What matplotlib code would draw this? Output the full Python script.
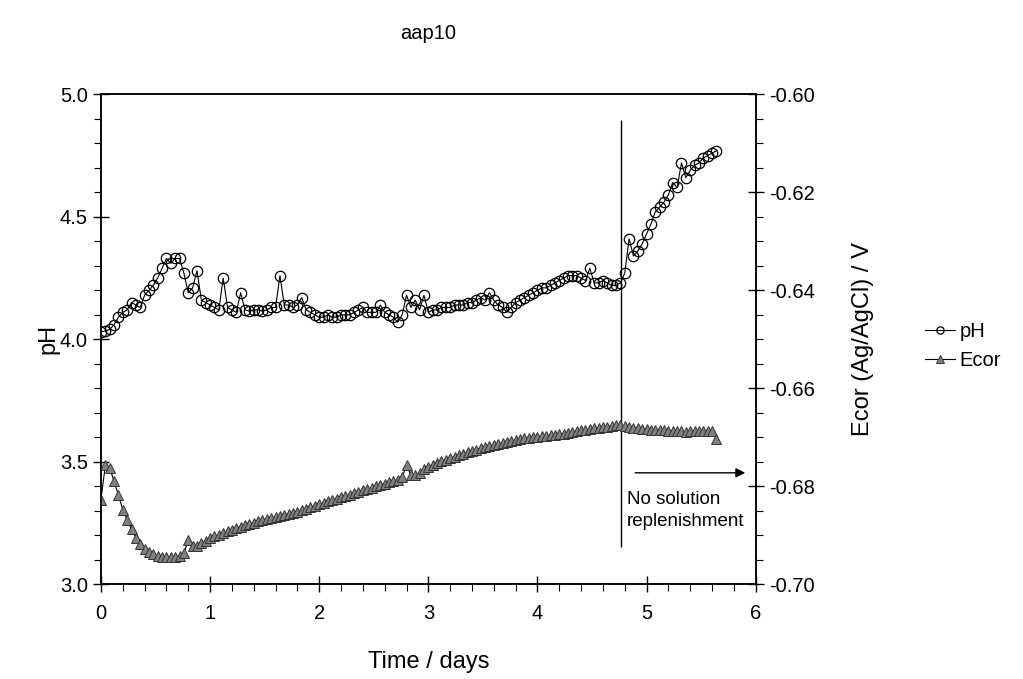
import numpy as np
import matplotlib
matplotlib.use('Agg')
import matplotlib.pyplot as plt
from matplotlib.ticker import MultipleLocator

plt.rcParams['font.family'] = ['Liberation Sans', 'DejaVu Sans']

# time in days (same sampling for both series)
days = [0.00, 0.04, 0.08, 0.12, 0.16, 0.20, 0.24, 0.28, 0.32, 0.36,
        0.40, 0.44, 0.48, 0.52, 0.56, 0.60, 0.64, 0.68, 0.72, 0.76,
        0.80, 0.84, 0.88, 0.92, 0.96, 1.00, 1.04, 1.08, 1.12, 1.16,
        1.20, 1.24, 1.28, 1.32, 1.36, 1.40, 1.44, 1.48, 1.52, 1.56,
        1.60, 1.64, 1.68, 1.72, 1.76, 1.80, 1.84, 1.88, 1.92, 1.96,
        2.00, 2.04, 2.08, 2.12, 2.16, 2.20, 2.24, 2.28, 2.32, 2.36,
        2.40, 2.44, 2.48, 2.52, 2.56, 2.60, 2.64, 2.68, 2.72, 2.76,
        2.80, 2.84, 2.88, 2.92, 2.96, 3.00, 3.04, 3.08, 3.12, 3.16,
        3.20, 3.24, 3.28, 3.32, 3.36, 3.40, 3.44, 3.48, 3.52, 3.56,
        3.60, 3.64, 3.68, 3.72, 3.76, 3.80, 3.84, 3.88, 3.92, 3.96,
        4.00, 4.04, 4.08, 4.12, 4.16, 4.20, 4.24, 4.28, 4.32, 4.36,
        4.40, 4.44, 4.48, 4.52, 4.56, 4.60, 4.64, 4.68, 4.72, 4.76,
        4.80, 4.84, 4.88, 4.92, 4.96, 5.00, 5.04, 5.08, 5.12, 5.16,
        5.20, 5.24, 5.28, 5.32, 5.36, 5.40, 5.44, 5.48, 5.52, 5.56,
        5.60, 5.64]

ph = [4.03, 4.035, 4.04, 4.06, 4.09, 4.11, 4.12, 4.15, 4.14, 4.13,
      4.18, 4.20, 4.22, 4.25, 4.29, 4.33, 4.31, 4.33, 4.33, 4.27,
      4.19, 4.21, 4.28, 4.16, 4.15, 4.14, 4.13, 4.12, 4.25, 4.13,
      4.12, 4.11, 4.19, 4.12, 4.115, 4.12, 4.12, 4.115, 4.12, 4.13,
      4.13, 4.26, 4.14, 4.14, 4.13, 4.14, 4.17, 4.12, 4.11, 4.10,
      4.09, 4.09, 4.10, 4.09, 4.09, 4.10, 4.10, 4.10, 4.11, 4.12,
      4.13, 4.11, 4.11, 4.11, 4.14, 4.11, 4.10, 4.09, 4.07, 4.10,
      4.18, 4.13, 4.16, 4.12, 4.18, 4.11, 4.12, 4.12, 4.13, 4.13,
      4.13, 4.14, 4.14, 4.14, 4.15, 4.15, 4.16, 4.17, 4.16, 4.19,
      4.16, 4.14, 4.13, 4.11, 4.13, 4.15, 4.16, 4.17, 4.18, 4.19,
      4.20, 4.21, 4.21, 4.22, 4.23, 4.24, 4.25, 4.26, 4.26, 4.26,
      4.25, 4.24, 4.29, 4.23, 4.23, 4.24, 4.23, 4.22, 4.22, 4.23,
      4.27, 4.41, 4.34, 4.36, 4.39, 4.43, 4.47, 4.52, 4.54, 4.56,
      4.59, 4.64, 4.62, 4.72, 4.66, 4.69, 4.71, 4.72, 4.74, 4.75,
      4.76, 4.77]

ecor = [-0.6827, -0.6757, -0.6762, -0.6790, -0.6818, -0.6848, -0.6868, -0.6888, -0.6905, -0.6918,
        -0.6927, -0.6934, -0.6939, -0.6942, -0.6944, -0.6945, -0.6945, -0.6944, -0.6942, -0.6937,
        -0.6910, -0.6922, -0.6922, -0.6916, -0.6911, -0.6905, -0.6902, -0.6899, -0.6896, -0.6892,
        -0.6889, -0.6886, -0.6883, -0.6880, -0.6877, -0.6874, -0.6871, -0.6869, -0.6867, -0.6865,
        -0.6862, -0.6860, -0.6858, -0.6856, -0.6854, -0.6852, -0.6849, -0.6846, -0.6843, -0.6840,
        -0.6837, -0.6834, -0.6831, -0.6828, -0.6825, -0.6822, -0.6820, -0.6817, -0.6814, -0.6811,
        -0.6808, -0.6806, -0.6803, -0.6800, -0.6797, -0.6795, -0.6792, -0.6789, -0.6787, -0.6782,
        -0.6757, -0.6777, -0.6777, -0.6772, -0.6764, -0.6760, -0.6756, -0.6752, -0.6749, -0.6746,
        -0.6743, -0.6740, -0.6737, -0.6734, -0.6731, -0.6728, -0.6725, -0.6722, -0.6720, -0.6717,
        -0.6716, -0.6714, -0.6712, -0.6710, -0.6708, -0.6706, -0.6704, -0.6702, -0.6701, -0.6700,
        -0.6699, -0.6698, -0.6697, -0.6696, -0.6695, -0.6694, -0.6693, -0.6692, -0.6690, -0.6688,
        -0.6686, -0.6685, -0.6684, -0.6682, -0.6681, -0.6680, -0.6678, -0.6676, -0.6675, -0.6675,
        -0.6677, -0.6679, -0.6681, -0.6682, -0.6683, -0.6684, -0.6685, -0.6685, -0.6686, -0.6686,
        -0.6687, -0.6687, -0.6688, -0.6688, -0.6689, -0.6688, -0.6688, -0.6687, -0.6687, -0.6687,
        -0.6687, -0.6704]

stop_day = 4.77  # end of solution replenishment

fig = plt.figure(figsize=(10.23, 6.79), dpi=100)
ax = fig.add_axes([0.0987, 0.1395, 0.64, 0.7216])
ax2 = ax.twinx()

l1, = ax.plot(days, ph, color='black', lw=0.8, marker='o', ms=7.5,
              mfc='none', mec='black', mew=0.9, label='pH')
l2, = ax2.plot(days, ecor, color='black', lw=0.8, marker='^', ms=7.5,
               mfc='#808080', mec='#333333', mew=0.7, label='Ecor')

ax.set_xlim(0, 6)
ax.set_ylim(3.0, 5.0)
ax2.set_ylim(-0.70, -0.60)

ax.xaxis.set_major_locator(MultipleLocator(1))
ax.xaxis.set_minor_locator(MultipleLocator(0.2))
ax.yaxis.set_major_locator(MultipleLocator(0.5))
ax.yaxis.set_minor_locator(MultipleLocator(0.1))
ax2.yaxis.set_major_locator(MultipleLocator(0.02))
ax2.yaxis.set_minor_locator(MultipleLocator(0.005))
ax.yaxis.set_major_formatter(plt.FormatStrFormatter('%.1f'))
ax2.yaxis.set_major_formatter(plt.FormatStrFormatter('%.2f'))

for a in (ax, ax2):
    a.tick_params(which='major', direction='inout', length=11, width=1.0, labelsize=14.5)
    a.tick_params(which='minor', direction='out', length=5, width=0.8)
    for s in a.spines.values():
        s.set_linewidth(1.1)
ax.tick_params(axis='x', which='major', pad=9)
ax.tick_params(axis='y', which='major', pad=4)
ax2.tick_params(axis='y', which='major', pad=4)

ax.set_xlabel('Time / days', fontsize=17, labelpad=20)
ax.set_ylabel('pH', fontsize=17, labelpad=0)
ax2.set_ylabel('Ecor (Ag/AgCl) / V', fontsize=17, labelpad=27)
ax.set_title('aap10', fontsize=14.5, pad=40)

ax.vlines(stop_day, 3.152, 4.895, color='black', lw=1)
ax.annotate('', xy=(5.93, 3.455), xytext=(4.87, 3.455),
            arrowprops=dict(arrowstyle='-|>', color='black', lw=1, mutation_scale=14))
ax.text(4.82, 3.30, 'No solution\nreplenishment', fontsize=13.5, va='center', ha='left',
        linespacing=1.4)

fig.legend(handles=[l1, l2], loc='center left', bbox_to_anchor=(0.886, 0.49),
           frameon=False, fontsize=14.5, handlelength=1.5, handletextpad=0.25,
           labelspacing=0.5, markerscale=0.7)

fig.savefig('out.png', dpi=100)
